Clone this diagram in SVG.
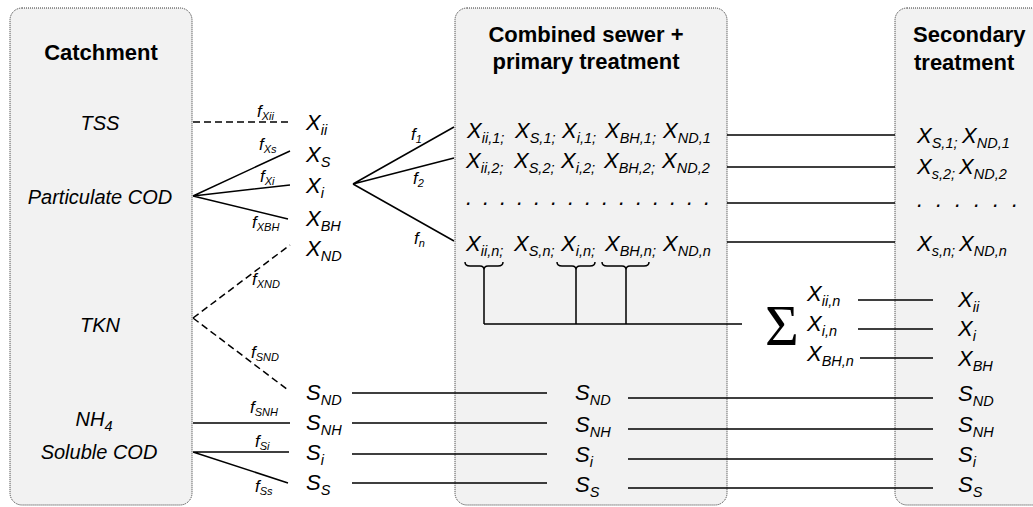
<svg xmlns="http://www.w3.org/2000/svg" width="1033" height="507" viewBox="0 0 1033 507">
<style>
.box{fill:#f2f2f2;stroke:#333;stroke-width:1;stroke-dasharray:1 1}
.t{font-family:"Liberation Sans",Arial,sans-serif;font-style:italic;fill:#000}
.ttl{font-family:"Liberation Sans",Arial,sans-serif;font-weight:bold;font-size:22px;fill:#000}
.lbl{font-size:20px}
.v{font-size:22px}
.sub{font-size:14.5px}
.f{font-size:17px}
.fs{font-size:11px}
.ln{stroke:#000;stroke-width:1.5;fill:none}
.dash{stroke-dasharray:7 4}
.sig{font-family:"Liberation Serif","DejaVu Serif",serif;font-size:58px;fill:#000}
</style>
<rect width="1033" height="507" fill="#fff"/>
<g id="catchment">
<rect class="box" x="10" y="8" width="182" height="497" rx="12"/>
<text class="ttl" x="101" y="60" text-anchor="middle">Catchment</text>
<text class="t lbl" x="100" y="130" text-anchor="middle">TSS</text>
<text class="t lbl" x="100" y="204" text-anchor="middle">Particulate COD</text>
<text class="t lbl" x="100" y="332" text-anchor="middle">TKN</text>
<text class="t lbl" x="94" y="426" text-anchor="middle">NH<tspan class="sub" dy="5">4</tspan></text>
<text class="t lbl" x="99" y="459" text-anchor="middle">Soluble COD</text>
</g>
<g id="combined-sewer">
<rect class="box" x="455" y="8" width="272" height="497" rx="12"/>
<text class="ttl" x="586" y="42" text-anchor="middle">Combined sewer +</text>
<text class="ttl" x="586" y="69" text-anchor="middle">primary treatment</text>
<text class="t v" y="138"><tspan x="467">X</tspan><tspan class="sub" dy="5">ii,1;</tspan><tspan x="515" dy="-5">X</tspan><tspan class="sub" dy="5">S,1;</tspan><tspan x="562" dy="-5">X</tspan><tspan class="sub" dy="5">i,1;</tspan><tspan x="605" dy="-5">X</tspan><tspan class="sub" dy="5">BH,1;</tspan><tspan x="663" dy="-5">X</tspan><tspan class="sub" dy="5">ND,1</tspan></text>
<text class="t v" y="168"><tspan x="466">X</tspan><tspan class="sub" dy="5">ii,2;</tspan><tspan x="514" dy="-5">X</tspan><tspan class="sub" dy="5">S,2;</tspan><tspan x="561" dy="-5">X</tspan><tspan class="sub" dy="5">i,2;</tspan><tspan x="604" dy="-5">X</tspan><tspan class="sub" dy="5">BH,2;</tspan><tspan x="662" dy="-5">X</tspan><tspan class="sub" dy="5">ND,2</tspan></text>
<text class="t v" x="466 483 500 517 534 551 568 585 602 619 636 653 670 687 704" y="205">...............</text>
<text class="t v" y="251"><tspan x="466">X</tspan><tspan class="sub" dy="5">ii,n;</tspan><tspan x="514" dy="-5">X</tspan><tspan class="sub" dy="5">S,n;</tspan><tspan x="561" dy="-5">X</tspan><tspan class="sub" dy="5">i,n;</tspan><tspan x="605" dy="-5">X</tspan><tspan class="sub" dy="5">BH,n;</tspan><tspan x="663" dy="-5">X</tspan><tspan class="sub" dy="5">ND,n</tspan></text>
<text class="t v" x="575" y="400">S<tspan class="sub" dy="5">ND</tspan></text>
<text class="t v" x="575" y="432">S<tspan class="sub" dy="5">NH</tspan></text>
<text class="t v" x="575" y="462">S<tspan class="sub" dy="5">i</tspan></text>
<text class="t v" x="575" y="492">S<tspan class="sub" dy="5">S</tspan></text>
</g>
<g id="secondary">
<rect class="box" x="895" y="8" width="160" height="497" rx="12"/>
<text class="ttl" x="913" y="42">Secondary</text>
<text class="ttl" x="914" y="70">treatment</text>
<text class="t v" y="143"><tspan x="917">X</tspan><tspan class="sub" dy="5">S,1;</tspan><tspan x="962" dy="-5">X</tspan><tspan class="sub" dy="5">ND,1</tspan></text>
<text class="t v" y="174"><tspan x="917">X</tspan><tspan class="sub" dy="5">s,2;</tspan><tspan x="959" dy="-5">X</tspan><tspan class="sub" dy="5">ND,2</tspan></text>
<text class="t v" x="917 936 955 974 993 1012" y="207">......</text>
<text class="t v" y="251"><tspan x="917">X</tspan><tspan class="sub" dy="5">s,n;</tspan><tspan x="959" dy="-5">X</tspan><tspan class="sub" dy="5">ND,n</tspan></text>
<text class="t v" x="958" y="307">X<tspan class="sub" dy="5">ii</tspan></text>
<text class="t v" x="958" y="336">X<tspan class="sub" dy="5">i</tspan></text>
<text class="t v" x="958" y="366">X<tspan class="sub" dy="5">BH</tspan></text>
<text class="t v" x="958" y="401">S<tspan class="sub" dy="5">ND</tspan></text>
<text class="t v" x="958" y="432">S<tspan class="sub" dy="5">NH</tspan></text>
<text class="t v" x="958" y="462">S<tspan class="sub" dy="5">i</tspan></text>
<text class="t v" x="958" y="492">S<tspan class="sub" dy="5">S</tspan></text>
</g>
<g id="fractions">
<text class="t v" x="306" y="130">X<tspan class="sub" dy="5">ii</tspan></text>
<text class="t v" x="306" y="162">X<tspan class="sub" dy="5">S</tspan></text>
<text class="t v" x="306" y="193">X<tspan class="sub" dy="5">i</tspan></text>
<text class="t v" x="306" y="226">X<tspan class="sub" dy="5">BH</tspan></text>
<text class="t v" x="306" y="256">X<tspan class="sub" dy="5">ND</tspan></text>
<text class="t v" x="306" y="400">S<tspan class="sub" dy="5">ND</tspan></text>
<text class="t v" x="306" y="430">S<tspan class="sub" dy="5">NH</tspan></text>
<text class="t v" x="306" y="460">S<tspan class="sub" dy="5">i</tspan></text>
<text class="t v" x="306" y="490">S<tspan class="sub" dy="5">S</tspan></text>
</g>
<g id="sum">
<text class="sig" x="765" y="345">Σ</text>
<text class="t v" x="807" y="301">X<tspan class="sub" dy="5">ii,n</tspan></text>
<text class="t v" x="807" y="331">X<tspan class="sub" dy="5">i,n</tspan></text>
<text class="t v" x="807" y="361">X<tspan class="sub" dy="5">BH,n</tspan></text>
</g>
<g id="connectors">
<path class="ln dash" d="M193 122H288"/>
<path class="ln" d="M193 196L290 151M193 196L290 185M193 196L288 219"/>
<path class="ln dash" d="M193 318L290 245M193 318L288 390"/>
<path class="ln" d="M193 423H290M193 452H289M193 452L288 483"/>
<path class="ln" d="M353 184L454 127M353 184L454 158M353 184L454 241"/>
<path class="ln" d="M727 135H895M727 167H895M727 203H895M727 242H895"/>
<path class="ln" d="M352 393H547M352 423H547M352 454H547M352 483H547"/>
<path class="ln" d="M628 398H933M628 429H933M628 459H933M628 488H933"/>
<path class="ln" d="M858 300H933M858 329H933M860 358H933"/>
<path class="ln" d="M465 262Q465 266 470 266H480Q484 266 484 270Q484 266 488 266H498Q503 266 503 262"/>
<path class="ln" d="M557 262Q557 266 562 266H572Q576 266 576 270Q576 266 580 266H590Q595 266 595 262"/>
<path class="ln" d="M602 262Q602 266 607 266H622Q626 266 626 270Q626 266 630 266H644Q649 266 649 262"/>
<path class="ln" d="M484 270V324M576 270V324M626 270V324M484 324H742"/>
<g class="t">
<text class="f" x="257" y="117">f<tspan class="fs" dy="3">Xii</tspan></text>
<text class="f" x="259" y="150">f<tspan class="fs" dy="3">Xs</tspan></text>
<text class="f" x="260" y="182">f<tspan class="fs" dy="3">Xi</tspan></text>
<text class="f" x="252" y="228">f<tspan class="fs" dy="3">XBH</tspan></text>
<text class="f" x="252" y="285">f<tspan class="fs" dy="3">XND</tspan></text>
<text class="f" x="251" y="358">f<tspan class="fs" dy="3">SND</tspan></text>
<text class="f" x="250" y="413">f<tspan class="fs" dy="3">SNH</tspan></text>
<text class="f" x="255" y="447">f<tspan class="fs" dy="3">Si</tspan></text>
<text class="f" x="255" y="492">f<tspan class="fs" dy="3">Ss</tspan></text>
<text class="f" x="411" y="140">f<tspan class="fs" dy="3">1</tspan></text>
<text class="f" x="413" y="184">f<tspan class="fs" dy="3">2</tspan></text>
<text class="f" x="414" y="244">f<tspan class="fs" dy="3">n</tspan></text>
</g>
</g>
</svg>
